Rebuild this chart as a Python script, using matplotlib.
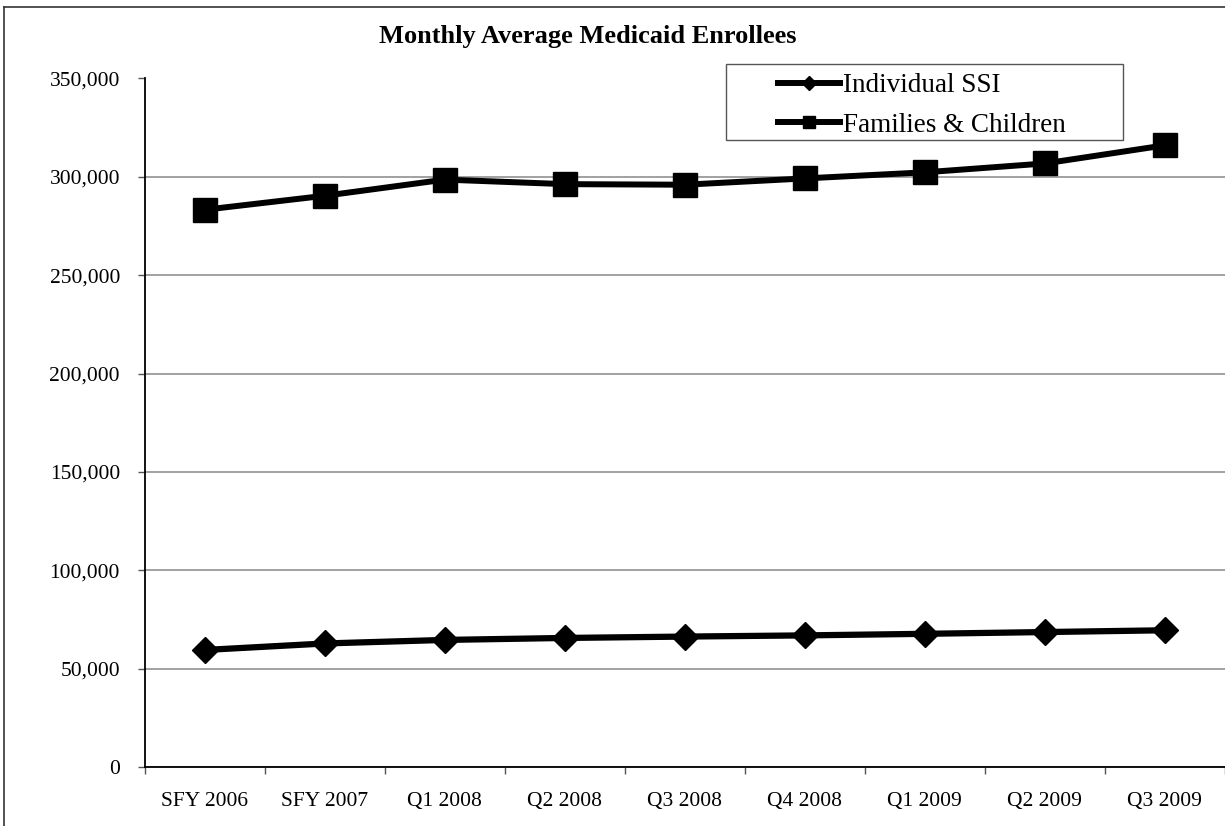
import matplotlib
matplotlib.use("Agg")
import matplotlib.pyplot as plt
from matplotlib.lines import Line2D
from matplotlib.patches import Rectangle
from matplotlib.ticker import FuncFormatter, FixedLocator

categories = ["SFY 2006", "SFY 2007", "Q1 2008", "Q2 2008", "Q3 2008",
              "Q4 2008", "Q1 2009", "Q2 2009", "Q3 2009"]
individual_ssi = [59500, 62800, 64600, 65600, 66300, 66900, 67700, 68600, 69500]
families_children = [283300, 290400, 298600, 296300, 296000, 299200, 302300, 306800, 316000]
series_names = ["Individual SSI", "Families & Children"]
title = "Monthly Average Medicaid Enrollees"
y_ticks = [0, 50000, 100000, 150000, 200000, 250000, 300000, 350000]

plt.rcParams['font.family'] = ['Liberation Serif', 'DejaVu Serif']

fig = plt.figure(figsize=(12.25, 8.26), dpi=100)
W, H = 1225, 826
ax = fig.add_axes([145 / W, (H - 767) / H, (1224.5 - 145) / W, (767 - 78.5) / H])

x = list(range(len(categories)))
ax.plot(x, individual_ssi, color='black', lw=4.5, marker='D', ms=13.5,
        markerfacecolor='black', markeredgecolor='black', zorder=3)
ax.plot(x, families_children, color='black', lw=4.3, marker='s', ms=17,
        markerfacecolor='black', markeredgecolor='black', zorder=3)

ax.set_xlim(-0.5, len(categories) - 0.5)
ax.set_ylim(0, 350000)
ax.set_yticks(y_ticks)
ax.yaxis.set_major_formatter(FuncFormatter(lambda v, p: f"{int(v):,}"))
ax.grid(axis='y', color='#878787', lw=1.1, zorder=0)
ax.set_axisbelow(True)

ax.xaxis.set_major_locator(FixedLocator([i - 0.5 for i in range(len(categories) + 1)]))
ax.xaxis.set_major_formatter(FuncFormatter(lambda v, p: ""))
ax.xaxis.set_minor_locator(FixedLocator(x))
ax.set_xticklabels(categories, minor=True)
ax.tick_params(axis='x', which='major', direction='out', length=5, width=1, color='#555555')
ax.tick_params(axis='x', which='minor', length=0, pad=18, labelsize=15.5)
ax.tick_params(axis='y', direction='out', length=5, width=1, color='#555555', pad=13, labelsize=15.5)

for s in ['top', 'right']:
    ax.spines[s].set_visible(False)
for s in ['left', 'bottom']:
    ax.spines[s].set_color('black')
    ax.spines[s].set_linewidth(1.3)

# legend frame (drawn in axes so it sits under the legend)
frame = Rectangle((726 / W, 1 - 140 / H), (1123 - 726) / W, (140 - 64) / H,
                  transform=fig.transFigure, facecolor='white',
                  edgecolor='#555555', lw=1.0, zorder=4, clip_on=False)
ax.add_patch(frame)

handles = [
    Line2D([], [], color='black', lw=4.3, marker='D', ms=7, markerfacecolor='black'),
    Line2D([], [], color='black', lw=4.3, marker='s', ms=9, markerfacecolor='black'),
]
leg = ax.legend(handles, series_names, loc='upper left',
                bbox_to_anchor=(778 / W, 1 - 73 / H),
                bbox_transform=fig.transFigure,
                fontsize=19.5, frameon=False,
                handlelength=2.3, handletextpad=0.1, labelspacing=0.55,
                borderpad=0, borderaxespad=0)
leg.set_zorder(5)

fig.text(588 / W, 1 - 36 / H, title, ha='center', va='center',
         fontsize=19, fontweight='bold')

# outer frame lines (top and left)
fig.add_artist(Line2D([4 / W, 1], [1 - 7 / H, 1 - 7 / H], transform=fig.transFigure,
                      color='#333333', lw=1.2))
fig.add_artist(Line2D([4 / W, 4 / W], [0, 1 - 7 / H], transform=fig.transFigure,
                      color='#333333', lw=1.2))

fig.savefig("out.png", dpi=100)
